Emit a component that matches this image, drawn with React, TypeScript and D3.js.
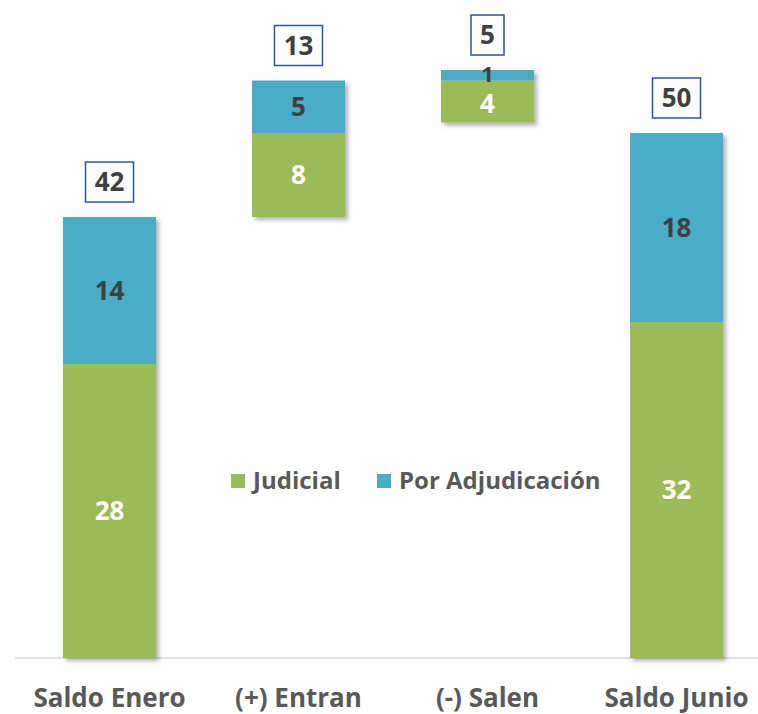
import React, { useEffect, useRef } from 'react';
import * as d3 from 'd3';

const categories = ['Saldo Enero', '(+) Entran', '(-) Salen', 'Saldo Junio'];
const baseValues = [0, 42, 51, 0]; // invisible offset of floating bars
const judicial = [28, 8, 4, 32];
const adjudicacion = [14, 5, 1, 18];
const totals = [42, 13, 5, 50];
const seriesNames = ['Judicial', 'Por Adjudicación'];

const W = 758;
const H = 714;
const GREEN = '#9BBB59';
const BLUE = '#4BACC6';
const FONT = '"Open Sans", "DejaVu Sans", sans-serif';

const App: React.FC = () => {
  const ref = useRef<SVGSVGElement>(null);

  useEffect(() => {
    const svg = d3.select(ref.current);
    svg.selectAll('*').remove();

    const defs = svg.append('defs');
    defs
      .append('filter')
      .attr('id', 'shadow')
      .attr('x', '-10%')
      .attr('y', '-10%')
      .attr('width', '130%')
      .attr('height', '130%')
      .append('feDropShadow')
      .attr('dx', 3)
      .attr('dy', 3)
      .attr('stdDeviation', 2)
      .attr('flood-color', '#000')
      .attr('flood-opacity', 0.3);

    const x = d3
      .scaleBand()
      .domain(categories)
      .range([15, 771])
      .paddingInner(0.508)
      .paddingOuter(0.254);

    const y = d3.scaleLinear().domain([0, 50]).range([658, 133]);

    // baseline
    svg
      .append('line')
      .attr('x1', 15)
      .attr('x2', W)
      .attr('y1', y(0))
      .attr('y2', y(0))
      .attr('stroke', '#d9d9d9')
      .attr('stroke-width', 1.5);

    const rows = categories.map((c, i) => ({
      cat: c,
      base: baseValues[i],
      jud: judicial[i],
      adj: adjudicacion[i],
      total: totals[i],
    }));

    const g = svg.append('g');

    // stacked segments
    rows.forEach(d => {
      const bx = x(d.cat)!;
      const bw = x.bandwidth();
      const grp = g.append('g').attr('filter', 'url(#shadow)');
      grp
        .append('rect')
        .attr('x', bx)
        .attr('width', bw)
        .attr('y', y(d.base + d.jud))
        .attr('height', y(d.base) - y(d.base + d.jud))
        .attr('fill', GREEN);
      grp
        .append('rect')
        .attr('x', bx)
        .attr('width', bw)
        .attr('y', y(d.base + d.jud + d.adj))
        .attr('height', y(d.base + d.jud) - y(d.base + d.jud + d.adj))
        .attr('fill', BLUE);
    });

    // segment labels
    rows.forEach(d => {
      const cx = x(d.cat)! + x.bandwidth() / 2;
      const small = d.adj < 3;
      g.append('text')
        .attr('x', cx)
        .attr('y', (y(d.base) + y(d.base + d.jud)) / 2 + (small ? 2 : 0))
        .attr('dy', '0.35em')
        .attr('text-anchor', 'middle')
        .attr('font-family', FONT)
        .attr('font-weight', 700)
        .attr('font-size', 26)
        .attr('fill', '#ffffff')
        .text(d.jud);
      g.append('text')
        .attr('x', cx)
        .attr('y', (y(d.base + d.jud) + y(d.base + d.jud + d.adj)) / 2 + (small ? -1 : 0))
        .attr('dy', '0.35em')
        .attr('text-anchor', 'middle')
        .attr('font-family', FONT)
        .attr('font-weight', 700)
        .attr('font-size', small ? 22 : 26)
        .attr('fill', '#404040')
        .text(d.adj);
    });

    // total boxes
    rows.forEach(d => {
      const cx = x(d.cat)! + x.bandwidth() / 2;
      const top = y(d.base + d.jud + d.adj);
      const bh = 40;
      const bw = String(d.total).length > 1 ? 48 : 33;
      const by = top - 15 - bh;
      g.append('rect')
        .attr('x', cx - bw / 2)
        .attr('y', by)
        .attr('width', bw)
        .attr('height', bh)
        .attr('fill', '#fff')
        .attr('stroke', '#2F5597')
        .attr('stroke-width', 1.5);
      g.append('text')
        .attr('x', cx)
        .attr('y', by + bh / 2)
        .attr('dy', '0.35em')
        .attr('text-anchor', 'middle')
        .attr('font-family', FONT)
        .attr('font-weight', 700)
        .attr('font-size', 26)
        .attr('fill', '#404040')
        .text(d.total);
    });

    // category labels
    svg
      .append('g')
      .selectAll('text')
      .data(categories)
      .enter()
      .append('text')
      .attr('x', d => x(d)! + x.bandwidth() / 2)
      .attr('y', 698)
      .attr('dy', '0.35em')
      .attr('text-anchor', 'middle')
      .attr('font-family', FONT)
      .attr('font-weight', 700)
      .attr('font-size', 26)
      .attr('fill', '#595959')
      .text(d => d);

    // legend
    const legend = svg.append('g').attr('transform', 'translate(231,481)');
    const legendX = [0, 146];
    seriesNames.forEach((name, i) => {
      const lg = legend.append('g').attr('transform', `translate(${legendX[i]},0)`);
      lg.append('rect')
        .attr('x', 0)
        .attr('y', -7)
        .attr('width', 14)
        .attr('height', 14)
        .attr('fill', i === 0 ? GREEN : BLUE);
      lg.append('text')
        .attr('x', 22)
        .attr('y', 0)
        .attr('dy', '0.35em')
        .attr('font-family', FONT)
        .attr('font-weight', 700)
        .attr('font-size', 24)
        .attr('fill', '#595959')
        .text(name);
    });
  }, []);

  return (
    <svg
      ref={ref}
      width={W}
      height={H}
      style={{ position: 'absolute', left: 0, top: 0, background: '#fff' }}
    />
  );
};

export default App;
